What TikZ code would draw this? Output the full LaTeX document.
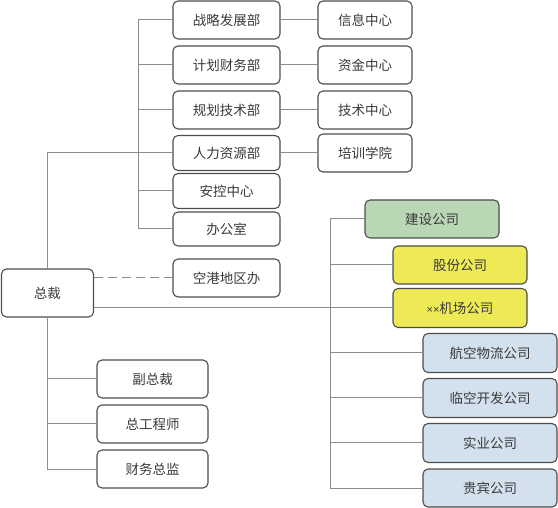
\documentclass[tikz,border=0pt]{standalone}
\usepackage{fontspec}
\setmainfont{Noto Sans CJK SC}
\newfontfamily\latinfont{Liberation Sans}
\usepackage{tikz}
\usetikzlibrary{calc}

\definecolor{boxline}{HTML}{4D4D4D}
\definecolor{linkgray}{HTML}{8C8C8C}
\definecolor{txtgray}{HTML}{3A3A3A}
\definecolor{jsgreen}{HTML}{B9D7B4}
\definecolor{gfyellow}{HTML}{EEEA55}
\definecolor{hkblue}{HTML}{D3E1EE}

\begin{document}
\begin{tikzpicture}[x=1pt, y=-1pt,
    box/.style={draw=boxline, line width=1.1pt, rounded corners=5pt, fill=white,
        text=txtgray, font=\fontsize{13.5}{15}\selectfont, inner sep=0pt,
        minimum height=38pt},
    link/.style={draw=linkgray, line width=1pt}]

    % 画布大小
    \useasboundingbox (0,0) rectangle (558,508);

    % 主干竖线的横坐标
    \coordinate (t1) at (138,0);   % 职能部门
    \coordinate (t2) at (330,0);   % 下属公司

    % 1. 总裁
    \node[box, minimum width=92pt, minimum height=48pt] (zc) at (47.5,293) {总裁};

    % 2. 职能部门
    \node[box, minimum width=107pt] (zl) at (226.5,20) {战略发展部};
    \node[box, minimum width=107pt] (jh) at (226.5,65) {计划财务部};
    \node[box, minimum width=107pt] (gh) at (226.5,110) {规划技术部};
    \node[box, minimum width=107pt, minimum height=35pt] (rl) at (226.5,153) {人力资源部};
    \node[box, minimum width=107pt, minimum height=35pt] (ak) at (226.5,191) {安控中心};
    \node[box, minimum width=107pt, minimum height=34pt] (bg) at (226.5,229) {办公室};
    \node[box, minimum width=107pt] (kg) at (226.5,278) {空港地区办};

    % 各中心
    \node[box, minimum width=94pt] (xx) at (365,20) {信息中心};
    \node[box, minimum width=94pt] (zj) at (365,65) {资金中心};
    \node[box, minimum width=94pt] (js) at (365,110) {技术中心};
    \node[box, minimum width=94pt] (px) at (365,153) {培训学院};

    % 3. 总裁下属
    \node[box, minimum width=111pt] (fz) at (152.5,379) {副总裁};
    \node[box, minimum width=111pt] (zg) at (152.5,424) {总工程师};
    \node[box, minimum width=111pt] (cw) at (152.5,469) {财务总监};

    % 4. 下属公司
    \node[box, minimum width=134pt, fill=jsgreen] (jsgs) at (432,219) {建设公司};
    \node[box, minimum width=134pt, fill=gfyellow] (gfgs) at (460,265) {股份公司};
    \node[box, minimum width=134pt, minimum height=39pt, fill=gfyellow] (jcgs) at (460,308)
        {{\latinfont\fontsize{11}{13}\selectfont ××}机场公司};
    \node[box, minimum width=134pt, minimum height=39pt, fill=hkblue] (hkgs) at (490,353) {航空物流公司};
    \node[box, minimum width=134pt, minimum height=39pt, fill=hkblue] (lkgs) at (490,398) {临空开发公司};
    \node[box, minimum width=134pt, minimum height=39pt, fill=hkblue] (sygs) at (490,443) {实业公司};
    \node[box, minimum width=134pt, fill=hkblue] (gbgs) at (490,488) {贵宾公司};

    % 5. 连线
    % 总裁 -- 人力资源部
    \draw[link] (zc.north) |- (rl.west);
    % 职能部门主干
    \draw[link] (zl.west -| t1) -- (bg.west -| t1);
    \foreach \n in {zl,jh,gh,ak,bg}
        \draw[link] (\n.west -| t1) -- (\n.west);
    % 部门 -- 中心
    \draw[link] (zl) -- (xx);
    \draw[link] (jh) -- (zj);
    \draw[link] (gh) -- (js);
    \draw[link] (rl) -- (px);
    % 空港地区办 (虚线)
    \draw[link, dash pattern=on 9pt off 5pt] (zc.east |- kg.west) -- (kg.west);

    % 总裁下属
    \draw[link] (zc.south) |- (cw.west);
    \draw[link] (zc.south |- fz.west) -- (fz.west);
    \draw[link] (zc.south |- zg.west) -- (zg.west);

    % 下属公司
    \draw[link] (zc.east |- jcgs.west) -- (jcgs.west);
    \draw[link] (jsgs.west -| t2) -- (gbgs.west -| t2);
    \foreach \n in {jsgs,gfgs,hkgs,lkgs,sygs,gbgs}
        \draw[link] (\n.west -| t2) -- (\n.west);

\end{tikzpicture}
\end{document}
